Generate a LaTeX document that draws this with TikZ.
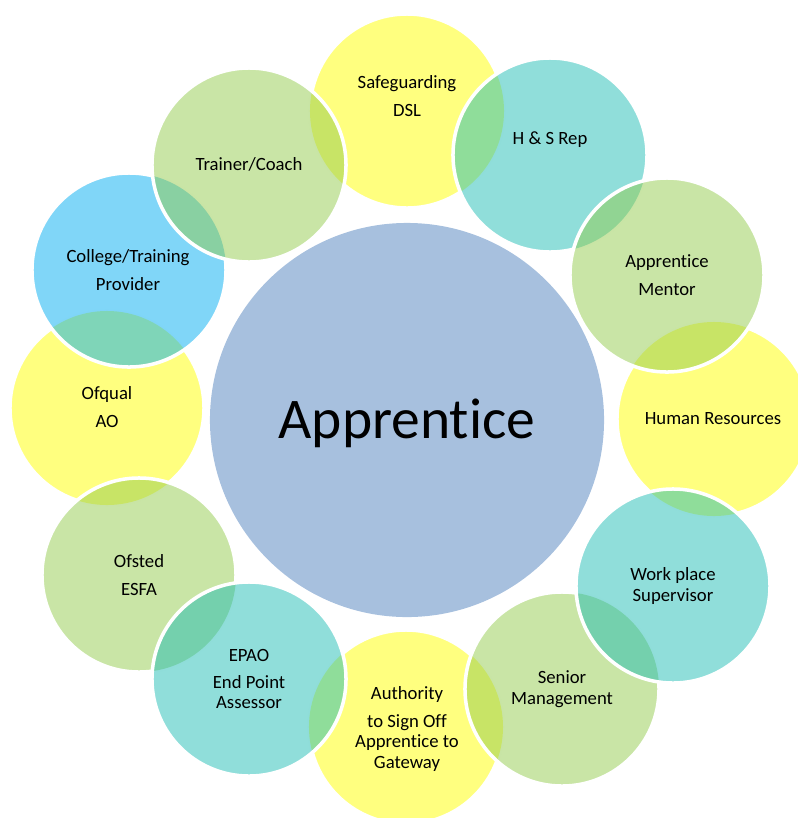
\documentclass[tikz,border=0pt]{standalone}
\usepackage{fontspec}
\setmainfont[Ligatures=NoCommon]{Carlito}
\usepackage{tikz}

\definecolor{Sun}{HTML}{FFFF00}
\definecolor{Leaf}{HTML}{93CB4D}
\definecolor{Sea}{HTML}{21BDB5}
\definecolor{Sky}{HTML}{01ADF1}
\definecolor{Core}{HTML}{4F81BD}

\begin{document}
\begin{tikzpicture}[x=0.025cm, y=-0.025cm]
		\tikzstyle{Bubble}	= [circle, draw=white, line width=2.5pt, minimum size=4.85cm, inner sep=0pt, fill opacity=0.5]
		\tikzstyle{Label}	= [align=center, inner sep=0pt, font=\fontsize{13.3}{14.7}\selectfont]
		\tikzstyle{Yellow}	= [fill=Sun]
		\tikzstyle{Green}	= [fill=Leaf]
		\tikzstyle{Teal}	= [fill=Sea]
		\tikzstyle{Blue}	= [fill=Sky]
		\def\R{2.425cm}

		\clip (0,0) rectangle (798,818);

		% centres of the ring, clockwise from the top
		\coordinate (c-dsl) at (407,111);
		\coordinate (c-hs) at (550,155);
		\coordinate (c-mentor) at (667,275);
		\coordinate (c-hr) at (714,419);
		\coordinate (c-work) at (673,586);
		\coordinate (c-senior) at (562,689);
		\coordinate (c-auth) at (406,727);
		\coordinate (c-epao) at (249,679);
		\coordinate (c-ofsted) at (139,575);
		\coordinate (c-ofqual) at (107,408);
		\coordinate (c-college) at (129,270);
		\coordinate (c-coach) at (249,165);

		% bottom layer
		\node (dsl) at (c-dsl) [Bubble][Yellow] {};
		\node (hr) at (c-hr) [Bubble][Yellow] {};
		\node (auth) at (c-auth) [Bubble][Yellow] {};
		\node (ofqual) at (c-ofqual) [Bubble][Yellow] {};

		% each upper circle: repaint what lies under it, then the circle itself
		\begin{scope} \clip (c-hs) circle [radius=\R]; \fill [Sun!50] (c-dsl) circle [radius=\R]; \end{scope}
		\node (hs) at (c-hs) [Bubble][Teal] {};

		\begin{scope} \clip (c-mentor) circle [radius=\R]; \fill [Sea!50] (c-hs) circle [radius=\R]; \fill [Sun!50] (c-hr) circle [radius=\R]; \end{scope}
		\node (mentor) at (c-mentor) [Bubble][Green] {};

		\begin{scope} \clip (c-senior) circle [radius=\R]; \fill [Sun!50] (c-auth) circle [radius=\R]; \end{scope}
		\node (senior) at (c-senior) [Bubble][Green] {};

		\begin{scope} \clip (c-work) circle [radius=\R]; \fill [Sun!50] (c-hr) circle [radius=\R]; \fill [Leaf!50] (c-senior) circle [radius=\R]; \end{scope}
		\node (work) at (c-work) [Bubble][Teal] {};

		\begin{scope} \clip (c-ofsted) circle [radius=\R]; \fill [Sun!50] (c-ofqual) circle [radius=\R]; \end{scope}
		\node (ofsted) at (c-ofsted) [Bubble][Green] {};

		\begin{scope} \clip (c-epao) circle [radius=\R]; \fill [Sun!50] (c-auth) circle [radius=\R]; \fill [Leaf!50] (c-ofsted) circle [radius=\R]; \end{scope}
		\node (epao) at (c-epao) [Bubble][Teal] {};

		\begin{scope} \clip (c-college) circle [radius=\R]; \fill [Sun!50] (c-ofqual) circle [radius=\R]; \end{scope}
		\node (college) at (c-college) [Bubble][Blue] {};

		\begin{scope} \clip (c-coach) circle [radius=\R]; \fill [Sky!50] (c-college) circle [radius=\R]; \fill [Sun!50] (c-dsl) circle [radius=\R]; \end{scope}
		\node (coach) at (c-coach) [Bubble][Green] {};

		% the apprentice in the middle
		\node (app) at (407,420) [circle, fill=Core!50, minimum size=9.85cm, inner sep=0pt] {};
		\node (app-t) at (407,423) [Label, font=\fontsize{40.9}{49}\selectfont] {Apprentice};

		% texts
		\node (dsl-t) at (407,96) [Label] {Safeguarding\\[5.2pt]DSL};
		\node (hs-t) at (550,140) [Label] {H \& S Rep};
		\node (mentor-t) at (667,275) [Label] {Apprentice\\[5.2pt]Mentor};
		\node (hr-t) at (713,419) [Label] {Human Resources};
		\node (work-t) at (673,586) [Label] {Work place\\Supervisor};
		\node (senior-t) at (562,689) [Label] {Senior\\Management};
		\node (auth-t) at (407,729) [Label] {Authority\\[5.2pt]to Sign Off\\Apprentice to\\Gateway};
		\node (epao-t) at (249,679) [Label] {EPAO\\[4.6pt]End Point\\Assessor};
		\node (ofsted-t) at (139,575) [Label] {Ofsted\\[5.2pt]ESFA};
		\node (ofqual-t) at (107,407) [Label] {Ofqual\\[5.2pt]AO};
		\node (college-t) at (128,270) [Label] {College/Training\\[5.2pt]Provider};
		\node (coach-t) at (249,164) [Label] {Trainer/Coach};
	\end{tikzpicture}
\end{document}
